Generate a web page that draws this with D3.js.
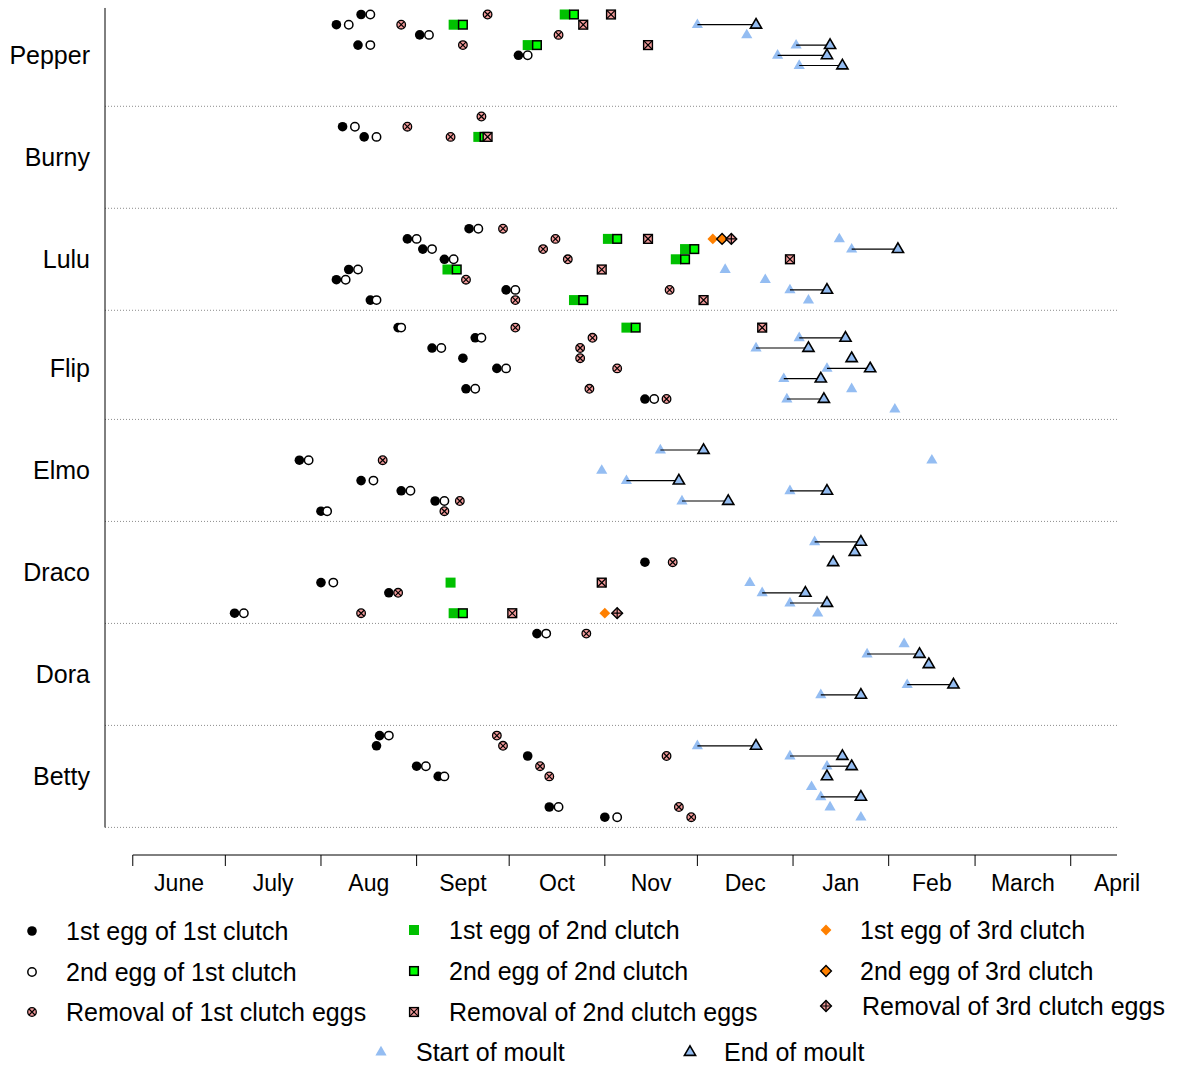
<!DOCTYPE html>
<html>
<head>
<meta charset="utf-8">
<script src="https://cdn.jsdelivr.net/npm/d3@7"></script>
<style>
  body { margin: 0; background: #fff; }
  text { font-family: "Liberation Sans", Arial, Helvetica, sans-serif; fill: #000; }
</style>
</head>
<body>
<svg id="chart" width="1178" height="1068"></svg>
<script>
// ---- Data ---------------------------------------------------------------
// Birds, top to bottom; each bird has numbered rows (one per breeding attempt).
const birds = ["Pepper", "Burny", "Lulu", "Flip", "Elmo", "Draco", "Dora", "Betty"];

// Month ticks and labels of the season axis.
const monthStarts = ["2009-06-01", "2009-07-01", "2009-08-01", "2009-09-01", "2009-10-01",
  "2009-11-01", "2009-12-01", "2010-01-01", "2010-02-01", "2010-03-01", "2010-04-01", "2010-05-01"];
const monthLabels = ["June", "July", "Aug", "Sept", "Oct", "Nov", "Dec", "Jan", "Feb", "March", "April"];

// Events: [bird, row, date]
const firstEggClutch1 = [
  ["Pepper", 1, "2009-08-14"], ["Pepper", 2, "2009-08-06"], ["Pepper", 3, "2009-09-02"], ["Pepper", 4, "2009-08-13"], ["Pepper", 5, "2009-10-04"],
  ["Burny", 2, "2009-08-08"], ["Burny", 3, "2009-08-15"],
  ["Lulu", 2, "2009-09-18"], ["Lulu", 3, "2009-08-29"], ["Lulu", 4, "2009-09-03"], ["Lulu", 5, "2009-09-10"], ["Lulu", 6, "2009-08-10"], ["Lulu", 7, "2009-08-06"], ["Lulu", 8, "2009-09-30"], ["Lulu", 9, "2009-08-17"],
  ["Flip", 1, "2009-08-26"], ["Flip", 2, "2009-09-20"], ["Flip", 3, "2009-09-06"], ["Flip", 4, "2009-09-16"], ["Flip", 5, "2009-09-27"], ["Flip", 7, "2009-09-17"], ["Flip", 8, "2009-11-14"],
  ["Elmo", 4, "2009-07-25"], ["Elmo", 6, "2009-08-14"], ["Elmo", 7, "2009-08-27"], ["Elmo", 8, "2009-09-07"], ["Elmo", 9, "2009-08-01"],
  ["Draco", 4, "2009-11-14"], ["Draco", 6, "2009-08-01"], ["Draco", 7, "2009-08-23"], ["Draco", 9, "2009-07-04"],
  ["Dora", 1, "2009-10-10"],
  ["Betty", 1, "2009-08-20"], ["Betty", 2, "2009-08-19"], ["Betty", 3, "2009-10-07"], ["Betty", 4, "2009-09-01"], ["Betty", 5, "2009-09-08"], ["Betty", 8, "2009-10-14"], ["Betty", 9, "2009-11-01"]
];
const secondEggClutch1 = [
  ["Pepper", 1, "2009-08-17"], ["Pepper", 2, "2009-08-10"], ["Pepper", 3, "2009-09-05"], ["Pepper", 4, "2009-08-17"], ["Pepper", 5, "2009-10-07"],
  ["Burny", 2, "2009-08-12"], ["Burny", 3, "2009-08-19"],
  ["Lulu", 2, "2009-09-21"], ["Lulu", 3, "2009-09-01"], ["Lulu", 4, "2009-09-06"], ["Lulu", 5, "2009-09-13"], ["Lulu", 6, "2009-08-13"], ["Lulu", 7, "2009-08-09"], ["Lulu", 8, "2009-10-03"], ["Lulu", 9, "2009-08-19"],
  ["Flip", 1, "2009-08-27"], ["Flip", 2, "2009-09-22"], ["Flip", 3, "2009-09-09"], ["Flip", 5, "2009-09-30"], ["Flip", 7, "2009-09-20"], ["Flip", 8, "2009-11-17"],
  ["Elmo", 4, "2009-07-28"], ["Elmo", 6, "2009-08-18"], ["Elmo", 7, "2009-08-30"], ["Elmo", 8, "2009-09-10"], ["Elmo", 9, "2009-08-03"],
  ["Draco", 6, "2009-08-05"], ["Draco", 9, "2009-07-07"],
  ["Dora", 1, "2009-10-13"],
  ["Betty", 1, "2009-08-23"], ["Betty", 4, "2009-09-04"], ["Betty", 5, "2009-09-10"], ["Betty", 8, "2009-10-17"], ["Betty", 9, "2009-11-05"]
];
const removalClutch1 = [
  ["Pepper", 1, "2009-09-24"], ["Pepper", 2, "2009-08-27"], ["Pepper", 3, "2009-10-17"], ["Pepper", 4, "2009-09-16"],
  ["Burny", 1, "2009-09-22"], ["Burny", 2, "2009-08-29"], ["Burny", 3, "2009-09-12"],
  ["Lulu", 2, "2009-09-29"], ["Lulu", 3, "2009-10-16"], ["Lulu", 4, "2009-10-12"], ["Lulu", 5, "2009-10-20"], ["Lulu", 7, "2009-09-17"], ["Lulu", 8, "2009-11-22"], ["Lulu", 9, "2009-10-03"],
  ["Flip", 1, "2009-10-03"], ["Flip", 2, "2009-10-28"], ["Flip", 3, "2009-10-24"], ["Flip", 4, "2009-10-24"], ["Flip", 5, "2009-11-05"], ["Flip", 7, "2009-10-27"], ["Flip", 8, "2009-11-21"],
  ["Elmo", 4, "2009-08-21"], ["Elmo", 8, "2009-09-15"], ["Elmo", 9, "2009-09-10"],
  ["Draco", 4, "2009-11-23"], ["Draco", 7, "2009-08-26"], ["Draco", 9, "2009-08-14"],
  ["Dora", 1, "2009-10-26"],
  ["Betty", 1, "2009-09-27"], ["Betty", 2, "2009-09-29"], ["Betty", 3, "2009-11-21"], ["Betty", 4, "2009-10-11"], ["Betty", 5, "2009-10-14"], ["Betty", 8, "2009-11-25"], ["Betty", 9, "2009-11-29"]
];
const firstEggClutch2 = [
  ["Pepper", 1, "2009-10-19"], ["Pepper", 2, "2009-09-13"], ["Pepper", 4, "2009-10-07"],
  ["Burny", 3, "2009-09-21"],
  ["Lulu", 3, "2009-11-02"], ["Lulu", 4, "2009-11-27"], ["Lulu", 5, "2009-11-24"], ["Lulu", 6, "2009-09-11"], ["Lulu", 9, "2009-10-22"],
  ["Flip", 1, "2009-11-08"],
  ["Draco", 6, "2009-09-12"], ["Draco", 9, "2009-09-13"]
];
const secondEggClutch2 = [
  ["Pepper", 1, "2009-10-22"], ["Pepper", 2, "2009-09-16"], ["Pepper", 4, "2009-10-10"],
  ["Burny", 3, "2009-09-23"],
  ["Lulu", 3, "2009-11-05"], ["Lulu", 4, "2009-11-30"], ["Lulu", 5, "2009-11-27"], ["Lulu", 6, "2009-09-14"], ["Lulu", 9, "2009-10-25"],
  ["Flip", 1, "2009-11-11"],
  ["Draco", 9, "2009-09-16"]
];
const removalClutch2 = [
  ["Pepper", 1, "2009-11-03"], ["Pepper", 2, "2009-10-25"], ["Pepper", 4, "2009-11-15"],
  ["Burny", 3, "2009-09-24"],
  ["Lulu", 3, "2009-11-15"], ["Lulu", 5, "2009-12-31"], ["Lulu", 6, "2009-10-31"], ["Lulu", 9, "2009-12-03"],
  ["Flip", 1, "2009-12-22"],
  ["Draco", 6, "2009-10-31"], ["Draco", 9, "2009-10-02"]
];
const firstEggClutch3 = [["Lulu", 3, "2009-12-06"], ["Draco", 9, "2009-11-01"]];
const secondEggClutch3 = [["Lulu", 3, "2009-12-09"]];
const removalClutch3 = [["Lulu", 3, "2009-12-12"], ["Draco", 9, "2009-11-05"]];
const moultStart = [
  ["Pepper", 2, "2009-12-01"], ["Pepper", 3, "2009-12-17"], ["Pepper", 4, "2010-01-02"], ["Pepper", 5, "2009-12-27"], ["Pepper", 6, "2010-01-03"],
  ["Lulu", 3, "2010-01-16"], ["Lulu", 4, "2010-01-20"], ["Lulu", 6, "2009-12-10"], ["Lulu", 7, "2009-12-23"], ["Lulu", 8, "2009-12-31"], ["Lulu", 9, "2010-01-06"],
  ["Flip", 2, "2010-01-03"], ["Flip", 3, "2009-12-20"], ["Flip", 5, "2010-01-12"], ["Flip", 6, "2009-12-29"], ["Flip", 7, "2010-01-20"], ["Flip", 8, "2009-12-30"], ["Flip", 9, "2010-02-03"],
  ["Elmo", 3, "2009-11-19"], ["Elmo", 4, "2010-02-15"], ["Elmo", 5, "2009-10-31"], ["Elmo", 6, "2009-11-08"], ["Elmo", 7, "2009-12-31"], ["Elmo", 8, "2009-11-26"],
  ["Draco", 2, "2010-01-08"], ["Draco", 6, "2009-12-18"], ["Draco", 7, "2009-12-22"], ["Draco", 8, "2009-12-31"], ["Draco", 9, "2010-01-09"],
  ["Dora", 2, "2010-02-06"], ["Dora", 3, "2010-01-25"], ["Dora", 6, "2010-02-07"], ["Dora", 7, "2010-01-10"],
  ["Betty", 2, "2009-12-01"], ["Betty", 3, "2009-12-31"], ["Betty", 4, "2010-01-12"], ["Betty", 6, "2010-01-07"], ["Betty", 7, "2010-01-10"], ["Betty", 8, "2010-01-13"], ["Betty", 9, "2010-01-23"]
];
const moultEnd = [
  ["Pepper", 2, "2009-12-20"], ["Pepper", 4, "2010-01-13"], ["Pepper", 5, "2010-01-12"], ["Pepper", 6, "2010-01-17"],
  ["Lulu", 4, "2010-02-04"], ["Lulu", 8, "2010-01-12"],
  ["Flip", 2, "2010-01-18"], ["Flip", 3, "2010-01-06"], ["Flip", 4, "2010-01-20"], ["Flip", 5, "2010-01-26"], ["Flip", 6, "2010-01-10"], ["Flip", 8, "2010-01-11"],
  ["Elmo", 3, "2009-12-03"], ["Elmo", 6, "2009-11-25"], ["Elmo", 7, "2010-01-12"], ["Elmo", 8, "2009-12-11"],
  ["Draco", 2, "2010-01-23"], ["Draco", 3, "2010-01-21"], ["Draco", 4, "2010-01-14"], ["Draco", 7, "2010-01-05"], ["Draco", 8, "2010-01-12"],
  ["Dora", 3, "2010-02-11"], ["Dora", 4, "2010-02-14"], ["Dora", 6, "2010-02-22"], ["Dora", 7, "2010-01-23"],
  ["Betty", 2, "2009-12-20"], ["Betty", 3, "2010-01-17"], ["Betty", 4, "2010-01-20"], ["Betty", 5, "2010-01-12"], ["Betty", 7, "2010-01-23"]
];

// ---- Layout ---------------------------------------------------------------
const svg = d3.select("#chart");
const parse = d3.utcParse("%Y-%m-%d");

const x = d3.scaleUtc()
  .domain([parse("2009-05-23"), parse("2010-04-16")])
  .range([105, 1117]);

// Each bird occupies a band of rows; rows are counted up from the band's lower edge.
const bandSpan = [10, 10, 10, 10.7, 10, 10, 10, 10];
const bandEnd = {};
let total = 0;
birds.forEach((b, i) => { total += bandSpan[i]; bandEnd[b] = total; });
const y = d3.scaleLinear().domain([0, total]).range([4.3, 827.4]);
const rowY = (bird, row) => y(bandEnd[bird] - 10 + row);

// ---- Marker styles ---------------------------------------------------------
const PINK = "#f29a9a", BLUE = "#94bdf2", GREEN_DARK = "#00c000", GREEN_LIGHT = "#00ff00", ORANGE = "#ff8000";
const TRI = "M0,-6.2L5.6,3.4L-5.6,3.4Z";
const DIAMOND = "M0,-5.4L5.4,0L0,5.4L-5.4,0Z";

const markers = {
  egg1c1: g => g.append("circle").attr("r", 4.8).attr("fill", "#000"),
  egg2c1: g => g.append("circle").attr("r", 4.2).attr("fill", "#fff").attr("stroke", "#000").attr("stroke-width", 1.5),
  rem1: g => {
    g.append("circle").attr("r", 4.3).attr("fill", PINK).attr("stroke", "#000").attr("stroke-width", 1.3);
    g.append("path").attr("d", "M-3,-3L3,3M-3,3L3,-3").attr("stroke", "#000").attr("stroke-width", 1.2);
  },
  egg1c2: g => g.append("rect").attr("x", -5).attr("y", -5).attr("width", 10).attr("height", 10).attr("fill", GREEN_DARK),
  egg2c2: g => g.append("rect").attr("x", -4.3).attr("y", -4.3).attr("width", 8.6).attr("height", 8.6)
    .attr("fill", GREEN_LIGHT).attr("stroke", "#000").attr("stroke-width", 1.5),
  rem2: g => {
    g.append("rect").attr("x", -4.4).attr("y", -4.4).attr("width", 8.8).attr("height", 8.8)
      .attr("fill", PINK).attr("stroke", "#000").attr("stroke-width", 1.4);
    g.append("path").attr("d", "M-4.4,-4.4L4.4,4.4M-4.4,4.4L4.4,-4.4").attr("stroke", "#000").attr("stroke-width", 1.2);
  },
  egg1c3: g => g.append("path").attr("d", DIAMOND).attr("fill", ORANGE),
  egg2c3: g => g.append("path").attr("d", DIAMOND).attr("fill", ORANGE).attr("stroke", "#000").attr("stroke-width", 1.4),
  rem3: g => {
    g.append("path").attr("d", DIAMOND).attr("fill", PINK).attr("stroke", "#000").attr("stroke-width", 1.4);
    g.append("path").attr("d", "M0,-5.4V5.4M-5.4,0H5.4").attr("stroke", "#000").attr("stroke-width", 1.2);
  },
  moultStart: g => g.append("path").attr("d", TRI).attr("fill", BLUE),
  moultEnd: g => g.append("path").attr("d", TRI).attr("fill", BLUE).attr("stroke", "#000").attr("stroke-width", 1.6)
};

// ---- Frame ---------------------------------------------------------------
// Dotted separators below each bird band
svg.append("g").selectAll("line")
  .data(birds)
  .join("line")
  .attr("x1", 105).attr("x2", 1117)
  .attr("y1", d => y(bandEnd[d])).attr("y2", d => y(bandEnd[d]))
  .attr("stroke", "#8c8c8c").attr("stroke-width", 1).attr("stroke-dasharray", "1,2");

// Left axis line
svg.append("line")
  .attr("x1", 105).attr("x2", 105)
  .attr("y1", y(0.36)).attr("y2", y(total))
  .attr("stroke", "#000").attr("stroke-width", 1);

// Bird names
svg.append("g").selectAll("text")
  .data(birds)
  .join("text")
  .attr("x", 90)
  .attr("y", d => y(bandEnd[d] - 5))
  .attr("dy", "0.35em")
  .attr("text-anchor", "end")
  .attr("font-size", 25)
  .text(d => d);

// Bottom season axis
const monthDates = monthStarts.map(parse);
const axisY = 855;
const xAxis = svg.append("g");
xAxis.append("line")
  .attr("x1", x(monthDates[0])).attr("x2", x.range()[1])
  .attr("y1", axisY).attr("y2", axisY)
  .attr("stroke", "#000");
xAxis.selectAll("line.tick")
  .data(monthDates.slice(0, 11))
  .join("line")
  .attr("class", "tick")
  .attr("x1", d => x(d)).attr("x2", d => x(d))
  .attr("y1", axisY).attr("y2", axisY + 11)
  .attr("stroke", "#000");
xAxis.selectAll("text")
  .data(monthLabels)
  .join("text")
  .attr("x", (d, i) => (x(monthDates[i]) + x(monthDates[i + 1])) / 2)
  .attr("y", 883)
  .attr("dy", "0.35em")
  .attr("text-anchor", "middle")
  .attr("font-size", 23)
  .text(d => d);

// ---- Marks ---------------------------------------------------------------
const plot = svg.append("g");
const key = d => d[0] + "|" + d[1];

function drawLayer(data, shape) {
  plot.append("g").selectAll("g")
    .data(data)
    .join("g")
    .attr("transform", d => `translate(${x(parse(d[2]))},${rowY(d[0], d[1])})`)
    .each(function () { markers[shape](d3.select(this)); });
}

drawLayer(firstEggClutch1, "egg1c1");
drawLayer(secondEggClutch1, "egg2c1");
drawLayer(removalClutch1, "rem1");
drawLayer(firstEggClutch2, "egg1c2");
drawLayer(secondEggClutch2, "egg2c2");
drawLayer(removalClutch2, "rem2");
drawLayer(firstEggClutch3, "egg1c3");
drawLayer(secondEggClutch3, "egg2c3");
drawLayer(removalClutch3, "rem3");
drawLayer(moultStart, "moultStart");

// Moult duration: start to end on the same row
const endByRow = new Map(moultEnd.map(d => [key(d), d]));
const spans = moultStart.filter(d => endByRow.has(key(d))).map(d => [d, endByRow.get(key(d))]);
plot.append("g").selectAll("line")
  .data(spans)
  .join("line")
  .attr("x1", d => x(parse(d[0][2]))).attr("x2", d => x(parse(d[1][2])))
  .attr("y1", d => rowY(d[0][0], d[0][1])).attr("y2", d => rowY(d[0][0], d[0][1]))
  .attr("stroke", "#000").attr("stroke-width", 1.2);

drawLayer(moultEnd, "moultEnd");

// ---- Legend ---------------------------------------------------------------
const legendItems = [
  { shape: "egg1c1", label: "1st egg of 1st clutch", sx: 32, tx: 66, y: 931 },
  { shape: "egg2c1", label: "2nd egg of 1st clutch", sx: 32, tx: 66, y: 972 },
  { shape: "rem1", label: "Removal of 1st clutch eggs", sx: 32, tx: 66, y: 1012 },
  { shape: "egg1c2", label: "1st egg of 2nd clutch", sx: 414, tx: 449, y: 930 },
  { shape: "egg2c2", label: "2nd egg of 2nd clutch", sx: 414, tx: 449, y: 971 },
  { shape: "rem2", label: "Removal of 2nd clutch eggs", sx: 414, tx: 449, y: 1012 },
  { shape: "egg1c3", label: "1st egg of 3rd clutch", sx: 826, tx: 860, y: 930 },
  { shape: "egg2c3", label: "2nd egg of 3rd clutch", sx: 826, tx: 860, y: 971 },
  { shape: "rem3", label: "Removal of 3rd clutch eggs", sx: 826, tx: 862, y: 1006 },
  { shape: "moultStart", label: "Start of moult", sx: 381, tx: 416, y: 1052 },
  { shape: "moultEnd", label: "End of moult", sx: 690, tx: 724, y: 1052 }
];
const legend = svg.append("g").selectAll("g")
  .data(legendItems)
  .join("g");
legend.append("g")
  .attr("transform", d => `translate(${d.sx},${d.y})`)
  .each(function (d) { markers[d.shape](d3.select(this)); });
legend.append("text")
  .attr("x", d => d.tx).attr("y", d => d.y)
  .attr("dy", "0.35em")
  .attr("font-size", 25)
  .text(d => d.label);
</script>
</body>
</html>
